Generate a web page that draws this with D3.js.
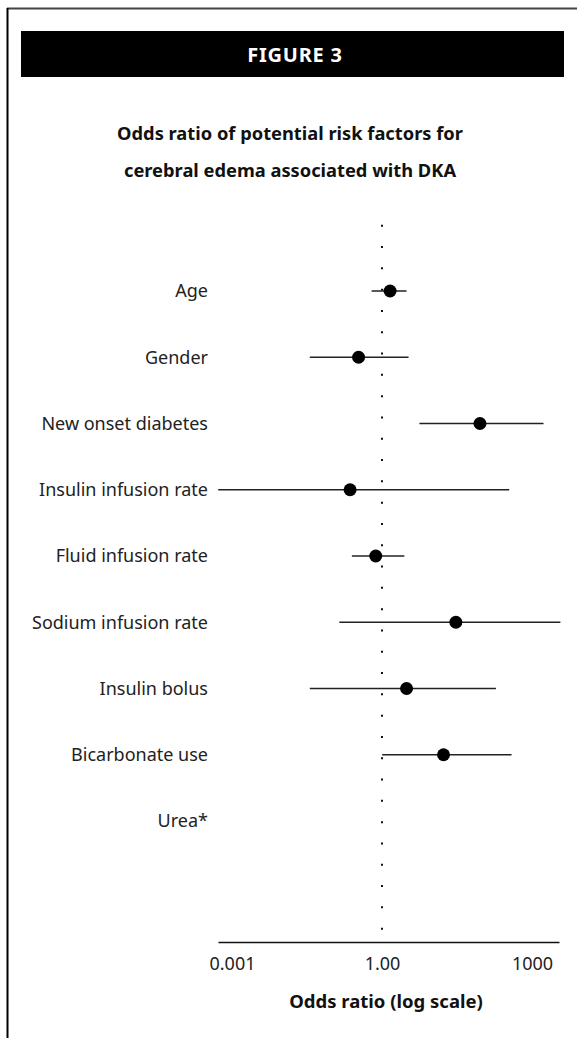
<!DOCTYPE html>
<html>
<head>
<meta charset="utf-8">
<script src="https://cdn.jsdelivr.net/npm/d3@7"></script>
<style>
  body { margin: 0; background: #fff; }
  text { font-family: "Noto Sans", sans-serif; }
</style>
</head>
<body>
<div id="chart"></div>
<script>
// Data
const factors = [
  "Age",
  "Gender",
  "New onset diabetes",
  "Insulin infusion rate",
  "Fluid infusion rate",
  "Sodium infusion rate",
  "Insulin bolus",
  "Bicarbonate use",
  "Urea*"
];
const oddsRatio = [1.45, 0.34, 91, 0.23, 0.75, 30, 3.1, 17, null];
const ciLow = [0.62, 0.036, 5.6, 0.00053, 0.25, 0.14, 0.036, 1.01, null];
const ciHigh = [3.1, 3.4, 1700, 350, 2.8, 3700, 190, 390, null];
const tickValues = [0.001, 1, 1000];
const tickLabels = ["0.001", "1.00", "1000"];

const width = 577;
const height = 1038;

const rows = factors.map((f, i) => ({
  name: f, or: oddsRatio[i], lo: ciLow[i], hi: ciHigh[i]
}));

const svg = d3.select("#chart")
  .append("svg")
  .attr("width", width)
  .attr("height", height);

// frame
svg.append("line")
  .attr("x1", 7).attr("x2", width)
  .attr("y1", 8.5).attr("y2", 8.5)
  .attr("stroke", "#444").attr("stroke-width", 2);
svg.append("line")
  .attr("x1", 7.5).attr("x2", 7.5)
  .attr("y1", 8).attr("y2", height)
  .attr("stroke", "#000").attr("stroke-width", 2);

// header bar
svg.append("rect")
  .attr("x", 21).attr("y", 31)
  .attr("width", 543).attr("height", 46)
  .attr("fill", "#000");
svg.append("text")
  .attr("x", 295).attr("y", 62)
  .attr("text-anchor", "middle")
  .attr("fill", "#fff")
  .attr("font-size", 20)
  .attr("font-weight", "bold")
  .attr("letter-spacing", 0.8)
  .text("FIGURE 3");

// title
const title = ["Odds ratio of potential risk factors for",
               "cerebral edema associated with DKA"];
svg.selectAll(".title")
  .data(title)
  .enter()
  .append("text")
  .attr("class", "title")
  .attr("x", 290)
  .attr("y", (d, i) => 140 + i * 37)
  .attr("text-anchor", "middle")
  .attr("font-size", 18.3)
  .attr("font-weight", "bold")
  .attr("fill", "#111")
  .text((d) => d);

// scales
const xScale = d3.scaleLog()
  .domain([Math.pow(10, -3.28), Math.pow(10, 3.54)])
  .range([218, 559]);

const yScale = d3.scalePoint()
  .domain(factors)
  .range([291, 821]);

const axisY = 942;

// reference line at OR = 1
svg.append("line")
  .attr("x1", xScale(1)).attr("x2", xScale(1))
  .attr("y1", yScale(factors[0]) - yScale.step())
  .attr("y2", axisY - 12)
  .attr("stroke", "#111")
  .attr("stroke-width", 2)
  .attr("stroke-dasharray", "2 19.3");

// axis
const xAxis = d3.axisBottom(xScale)
  .tickValues(tickValues)
  .tickFormat((d, i) => tickLabels[i])
  .tickSize(0)
  .tickPadding(15);

const gx = svg.append("g")
  .attr("transform", `translate(0, ${axisY})`)
  .call(xAxis);
gx.select(".domain").attr("stroke", "#111").attr("stroke-width", 1.5);
gx.selectAll("text")
  .attr("font-family", "Noto Sans, sans-serif")
  .attr("font-size", 18)
  .attr("fill", "#222");

svg.append("text")
  .attr("x", 386).attr("y", 1008)
  .attr("text-anchor", "middle")
  .attr("font-size", 18.5)
  .attr("font-weight", "bold")
  .attr("fill", "#111")
  .text("Odds ratio (log scale)");

// category labels
svg.selectAll(".label")
  .data(rows)
  .enter()
  .append("text")
  .attr("class", "label")
  .attr("x", 208)
  .attr("y", (d) => yScale(d.name))
  .attr("dy", "0.35em")
  .attr("text-anchor", "end")
  .attr("font-size", 18)
  .attr("fill", "#222")
  .text((d) => d.name);

const withData = rows.filter((d) => d.or != null);

// confidence intervals
svg.selectAll(".ci")
  .data(withData)
  .enter()
  .append("line")
  .attr("class", "ci")
  .attr("x1", (d) => xScale(d.lo))
  .attr("x2", (d) => xScale(d.hi))
  .attr("y1", (d) => yScale(d.name))
  .attr("y2", (d) => yScale(d.name))
  .attr("stroke", "#222")
  .attr("stroke-width", 1.4);

// point estimates
svg.selectAll(".dot")
  .data(withData)
  .enter()
  .append("circle")
  .attr("class", "dot")
  .attr("cx", (d) => xScale(d.or))
  .attr("cy", (d) => yScale(d.name))
  .attr("r", 6.5)
  .attr("fill", "#000");
</script>
</body>
</html>
